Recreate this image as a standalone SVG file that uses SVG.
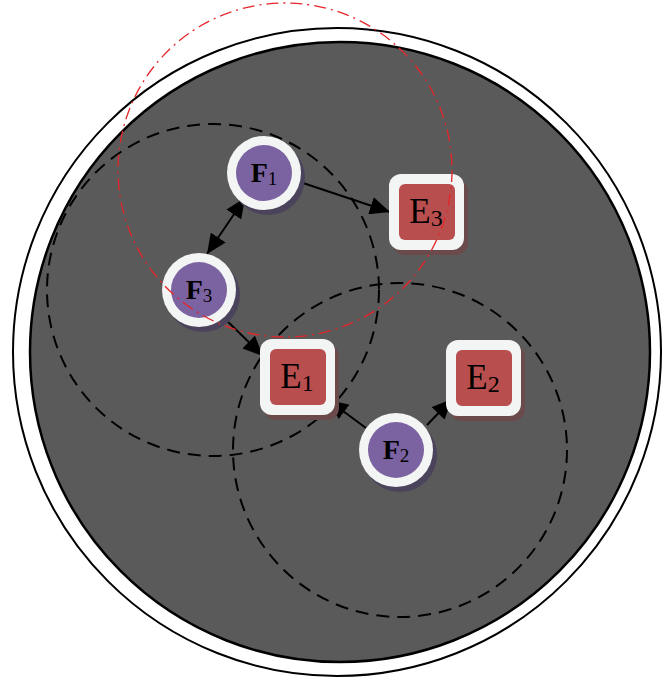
<svg xmlns="http://www.w3.org/2000/svg" width="663" height="680" viewBox="0 0 663 680">
<defs>
<style>
.dash{fill:none;stroke:#000;stroke-width:2;stroke-dasharray:13 8}
.red{fill:none;stroke:#e5262a;stroke-width:1.3;stroke-dasharray:12 5 2 5}
.ring{fill:#f3f4f4}
.pur{fill:#7b62a0}
.pshadow{fill:#4b435c}
.box{fill:#f3f4f4}
.rbox{fill:#b84f4e}
.rshadow{fill:#6a4a4a}
.conn{stroke:#000;stroke-width:2;fill:none}
.ft{font-family:"Liberation Serif",serif;font-size:28px;font-weight:bold;fill:#000}
.fs{font-size:19px;font-weight:normal}
.et{font-family:"Liberation Serif",serif;font-size:35px;fill:#000}
.es{font-size:24px}
</style>
<marker id="a" viewBox="0 0 19 17" refX="19" refY="8.5" markerWidth="20" markerHeight="18" markerUnits="userSpaceOnUse" orient="auto-start-reverse">
<path d="M0,0 L19,8.5 L0,17 z" fill="#000"/>
</marker>
</defs>
<g id="background">
<circle cx="337" cy="352" r="324" fill="#fff" stroke="#000" stroke-width="2"/>
<circle cx="340" cy="352" r="310" fill="#5a5a5a" stroke="#000" stroke-width="2.5"/>
<circle cx="213" cy="290" r="166" class="dash"/>
<circle cx="400" cy="450" r="167" class="dash"/>
</g>
<g id="connectors">
<line x1="207" y1="254" x2="245" y2="198" class="conn" marker-start="url(#a)" marker-end="url(#a)"/>
<line x1="303" y1="183" x2="390" y2="212" class="conn" marker-end="url(#a)"/>
<line x1="222" y1="316" x2="263" y2="356" class="conn" marker-end="url(#a)"/>
<line x1="366" y1="428" x2="328" y2="400" class="conn" marker-end="url(#a)"/>
<line x1="427" y1="425" x2="452" y2="399" class="conn" marker-end="url(#a)"/>
</g>
<g id="F1">
<circle cx="268" cy="178" r="37" class="pshadow"/>
<circle cx="264" cy="173" r="37" class="ring"/>
<circle cx="264" cy="173" r="28" class="pur"/>
<text x="264" y="182" class="ft" text-anchor="middle">F<tspan class="fs" dy="3">1</tspan></text>
</g>
<g id="F3">
<circle cx="203" cy="295" r="37" class="pshadow"/>
<circle cx="199" cy="290" r="37" class="ring"/>
<circle cx="199" cy="290" r="28" class="pur"/>
<text x="199" y="299" class="ft" text-anchor="middle">F<tspan class="fs" dy="3">3</tspan></text>
</g>
<g id="F2">
<circle cx="400" cy="455" r="37" class="pshadow"/>
<circle cx="396" cy="450" r="37" class="ring"/>
<circle cx="396" cy="450" r="28" class="pur"/>
<text x="396" y="459" class="ft" text-anchor="middle">F<tspan class="fs" dy="3">2</tspan></text>
</g>
<g id="E3">
<rect x="393" y="179" width="75" height="76" rx="12" class="rshadow"/>
<rect x="389" y="174" width="75" height="76" rx="12" class="box"/>
<rect x="399" y="184" width="56" height="56" rx="6" class="rbox"/>
<text x="426" y="223" class="et" text-anchor="middle">E<tspan class="es" dy="3">3</tspan></text>
</g>
<g id="E1">
<rect x="264" y="344" width="75" height="76" rx="12" class="rshadow"/>
<rect x="260" y="339" width="75" height="76" rx="12" class="box"/>
<rect x="270" y="349" width="56" height="56" rx="6" class="rbox"/>
<text x="297" y="388" class="et" text-anchor="middle">E<tspan class="es" dy="3">1</tspan></text>
</g>
<g id="E2">
<rect x="450" y="345" width="75" height="76" rx="12" class="rshadow"/>
<rect x="446" y="340" width="75" height="76" rx="12" class="box"/>
<rect x="456" y="350" width="56" height="56" rx="6" class="rbox"/>
<text x="483" y="389" class="et" text-anchor="middle">E<tspan class="es" dy="3">2</tspan></text>
</g>
<g id="overlay">
<circle cx="285" cy="170" r="167" class="red"/>
</g>
</svg>
